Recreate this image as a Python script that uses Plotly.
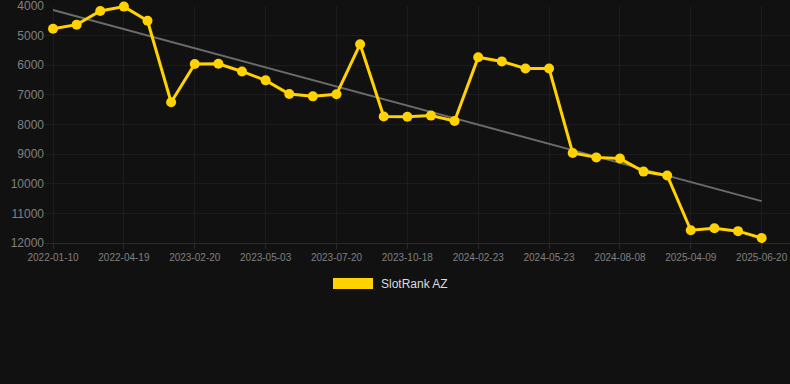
import numpy as np
import plotly.graph_objects as go

tick_labels = ["2022-01-10", "2022-04-19", "2023-02-20", "2023-05-03", "2023-07-20",
               "2023-10-18", "2024-02-23", "2024-05-23", "2024-08-08", "2025-04-09", "2025-06-20"]
ranks = [4770, 4630, 4170, 4020, 4500, 7250, 5960, 5950, 6210, 6510,
         6970, 7050, 6980, 5290, 7730, 7740, 7700, 7880, 5730, 5870,
         6110, 6110, 8960, 9110, 9150, 9590, 9720, 11570, 11500, 11600, 11830]
y_ticks = [4000, 5000, 6000, 7000, 8000, 9000, 10000, 11000, 12000]
series_name = "SlotRank AZ"

idx = np.arange(len(ranks))
tick_idx = idx[::3]
slope, intercept = np.polyfit(idx, ranks, 1)
trend = slope * idx + intercept

YELLOW = "#FFD200"
fig = go.Figure()
fig.add_trace(go.Scatter(x=idx, y=trend, mode="lines",
                         line=dict(color="#6b6b6b", width=2), showlegend=False,
                         hoverinfo="skip", cliponaxis=False))
fig.add_trace(go.Scatter(x=idx, y=ranks, mode="lines+markers", name=series_name,
                         line=dict(color=YELLOW, width=3),
                         marker=dict(color=YELLOW, size=10),
                         showlegend=False, cliponaxis=False))

fig.add_shape(type="rect", xref="paper", yref="paper",
              x0=(333 - 45) / 745, x1=(373 - 45) / 745,
              y0=(243 - 289) / 237, y1=(243 - 278) / 237,
              fillcolor=YELLOW, line=dict(width=0))
fig.add_annotation(text=series_name, xref="paper", yref="paper",
                   x=(379 - 45) / 745, y=(243 - 284) / 237,
                   xanchor="left", yanchor="middle", showarrow=False,
                   font=dict(color="#dddddd", size=12))

fig.update_layout(
    width=790, height=384,
    margin=dict(l=45, r=0, t=6, b=141),
    paper_bgcolor="#111111", plot_bgcolor="#111111",
    font=dict(family="Liberation Sans, Arial, sans-serif", color="#808080"),
    showlegend=False,
    xaxis=dict(range=[-0.34, 31.2], tickvals=tick_idx, ticktext=tick_labels,
               tickfont=dict(size=10, color="#808080"),
               showgrid=True, gridcolor="#1c1c1c", gridwidth=1,
               ticks="outside", ticklen=5, tickcolor="#2a2a2a",
               zeroline=False, showline=True, linecolor="#2a2a2a",
               ticklabeloverflow="allow"),
    yaxis=dict(range=[12000, 4000], tickvals=y_ticks, ticktext=[str(v) for v in y_ticks],
               tickfont=dict(size=12, color="#808080"),
               showgrid=True, gridcolor="#1c1c1c", gridwidth=1,
               zeroline=False, ticks="", showline=False,
               ticklabeloverflow="allow"),
)

fig.write_html("out.html")
